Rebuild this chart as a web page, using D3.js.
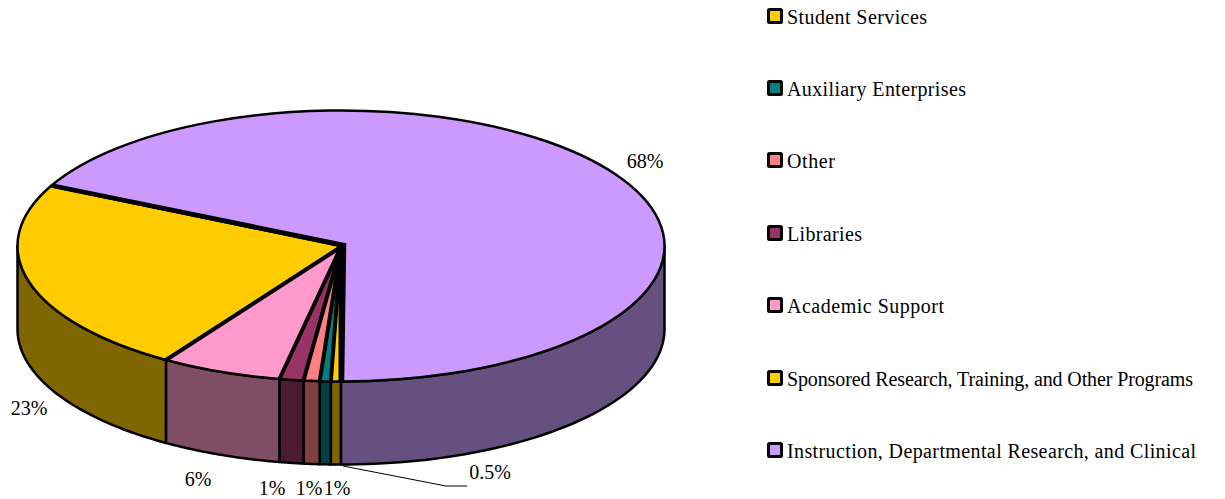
<!DOCTYPE html>
<html><head><meta charset="utf-8">
<script src="https://cdn.jsdelivr.net/npm/d3@7"></script>
<style>html,body{margin:0;padding:0;background:#fff;overflow:hidden}svg{display:block}text{font-family:"Liberation Serif","Times New Roman",serif;font-size:20px;fill:#000}</style>
</head><body><svg id="c" width="1225" height="499"></svg>
<script>
(function(){
const categories=["Student Services","Auxiliary Enterprises","Other","Libraries","Academic Support","Sponsored Research, Training, and Other Programs","Instruction, Departmental Research, and Clinical"];
const values=[0.5,0.55,0.8,1.2,6.05,23.2,67.7];
const topColors=["#FFCC00","#008080","#FF8080","#993366","#FF99CC","#FFCC00","#CC99FF"];
const sideColors=["#806600","#004040","#804040","#4D1A33","#804D66","#806600","#66507F"];
const valueLabels=["0.5%","1%","1%","1%","6%","23%","68%"];
const labelPos=[[490,472],[337,488],[309,488],[272,488],[198,479],[29,408],[645,161]];
const legendY=[16,88,160,233,305,378,450];
const legendTextY=[17,89,161,234,306,379,451];
const legendWidth=[140,179,48,75,157,406,409];
const leader=[[343,466],[446,486],[467,486]];

const cx=341,cy=246,rx=323.5,ry=135.5,depth=83;
const svg=d3.select("#c");
const start=Math.PI;
const arcs=d3.pie().sort(null).value(d=>d).startAngle(start).endAngle(start+2*Math.PI)(values);
const px=a=>cx+rx*Math.sin(a), py=a=>cy-ry*Math.cos(a);

const line=d3.line();
arcs.forEach((d,i)=>{
  const P=2*Math.PI;
  [0,-P].forEach(off=>{
    const a0=Math.max(d.startAngle+off,Math.PI/2), a1=Math.min(d.endAngle+off,3*Math.PI/2);
    if(a1<=a0) return;
    const as=d3.range(0,61).map(k=>a0+(a1-a0)*k/60);
    const pts=as.map(a=>[px(a),py(a)]).concat(as.slice().reverse().map(a=>[px(a),py(a)+depth]));
    svg.append("path").attr("d",line(pts)+"Z").attr("fill",sideColors[i]).attr("stroke","#000").attr("stroke-width",2.5).attr("stroke-linejoin","round");
  });
});

const arc=d3.arc().innerRadius(0).outerRadius(rx);
const face=svg.append("g").attr("transform",`translate(${cx},${cy}) scale(1,${ry/rx})`);
face.selectAll("path").data(arcs).join("path").attr("d",arc)
  .attr("fill",(d,i)=>topColors[i]).attr("stroke","#000").attr("stroke-width",2.5)
  .attr("vector-effect","non-scaling-stroke").attr("stroke-linejoin","round");

// inner slices meet just below-left of the centre; the large slice's apex sits up-right of it
arcs.slice(1,6).forEach(d=>{
  svg.append("line").attr("x1",cx).attr("y1",cy+1).attr("x2",px(d.startAngle)).attr("y2",py(d.startAngle))
    .attr("stroke","#000").attr("stroke-width",4);
});
const apex=[cx+3,cy-1];
const big=arcs[6];
svg.append("path").attr("fill","none").attr("stroke","#000").attr("stroke-width",4.5).attr("stroke-linejoin","miter")
  .attr("d",line([[px(big.startAngle)+3,py(big.startAngle)],apex,[px(big.endAngle)+1,py(big.endAngle)]]));
svg.append("line").attr("x1",cx-1).attr("y1",cy+1).attr("x2",px(big.endAngle)-1).attr("y2",py(big.endAngle))
  .attr("stroke","#000").attr("stroke-width",3);

svg.append("path").attr("d",line(leader)).attr("fill","none").attr("stroke","#000").attr("stroke-width",1);

svg.selectAll("text.v").data(valueLabels).join("text").attr("class","v")
  .attr("x",(d,i)=>labelPos[i][0]).attr("y",(d,i)=>labelPos[i][1]).attr("text-anchor","middle").attr("dominant-baseline","central").text(d=>d);

categories.forEach((c,i)=>{
  svg.append("rect").attr("x",768.5).attr("y",legendY[i]-6.5).attr("width",13).attr("height",13)
    .attr("fill",topColors[i]).attr("stroke","#000").attr("stroke-width",3).attr("rx",1);
  svg.append("text").attr("x",787).attr("y",legendTextY[i]).attr("dominant-baseline","central")
    .attr("textLength",legendWidth[i]).attr("lengthAdjust","spacing").text(c);
});
})();
</script></body></html>
